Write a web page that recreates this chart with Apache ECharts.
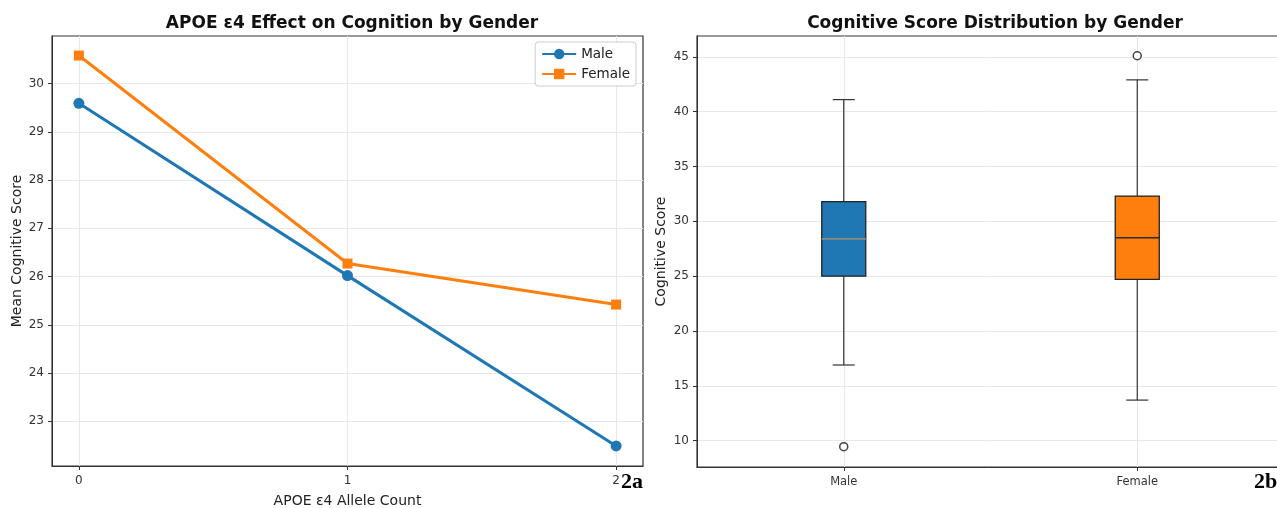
<!DOCTYPE html>
<html><head><meta charset="utf-8">
<script src="https://cdn.jsdelivr.net/npm/echarts@6/dist/echarts.min.js"></script>
<style>html,body{margin:0;padding:0;background:#fff}#c{width:1277px;height:508px}</style>
</head><body><div id="c"></div>
<script>
// ---- data ----
const alleleCounts = [0, 1, 2];
const maleMeans = [29.59, 26.02, 22.49];
const femaleMeans = [30.58, 26.27, 25.42];
const leftYTicks = [23, 24, 25, 26, 27, 28, 29, 30];

const genders = ['Male', 'Female'];
// [low whisker, Q1, median, Q3, high whisker]
const maleBox = [16.9, 25.0, 28.4, 31.8, 41.1];
const femaleBox = [13.7, 24.7, 28.5, 32.3, 42.9];
const maleOutliers = [9.45];
const femaleOutliers = [45.1];
const rightYTicks = [10, 15, 20, 25, 30, 35, 40, 45];

const blue = '#1f77b4', orange = '#ff7f0e';
const FONT = 'DejaVu Sans';
const chart = echarts.init(document.getElementById('c'));

const boxData = [[1].concat(maleBox), [2].concat(femaleBox)];
const boxColors = [blue, orange];
const medianColors = ['#8a8a80', '#2a2a2a'];

function renderBox(params, api) {
  const x = api.value(0);
  const lo = api.coord([x, api.value(1)]);
  const q1 = api.coord([x, api.value(2)]);
  const md = api.coord([x, api.value(3)]);
  const q3 = api.coord([x, api.value(4)]);
  const hi = api.coord([x, api.value(5)]);
  const w = api.size([0.15, 0])[0];
  const hw = w / 2, cw = w / 4;
  const cx = lo[0];
  const ls = {stroke: '#333', lineWidth: 1.2};
  return {type: 'group', children: [
    {type: 'line', shape: {x1: cx, y1: lo[1], x2: cx, y2: q1[1]}, style: ls},
    {type: 'line', shape: {x1: cx, y1: q3[1], x2: cx, y2: hi[1]}, style: ls},
    {type: 'line', shape: {x1: cx - cw, y1: lo[1], x2: cx + cw, y2: lo[1]}, style: ls},
    {type: 'line', shape: {x1: cx - cw, y1: hi[1], x2: cx + cw, y2: hi[1]}, style: ls},
    {type: 'rect', shape: {x: cx - hw, y: q3[1], width: w, height: q1[1] - q3[1]},
      style: {fill: boxColors[params.dataIndex], stroke: '#222', lineWidth: 1.3}},
    {type: 'line', shape: {x1: cx - hw, y1: md[1], x2: cx + hw, y2: md[1]},
      style: {stroke: medianColors[params.dataIndex], lineWidth: 1.6}}
  ]};
}

const axisTextStyle = {color: '#333', fontFamily: FONT, fontSize: 12};
const gridLine = {show: true, lineStyle: {color: '#e8e8e8', width: 1}};
const nameStyle = {fontFamily: FONT, fontSize: 14, color: '#222'};

chart.setOption({
  animation: false,
  backgroundColor: '#fff',
  title: [
    {text: 'APOE ε4 Effect on Cognition by Gender', left: 347, top: 10, textAlign: 'center',
      textStyle: {fontFamily: FONT, fontWeight: 'bold', fontSize: 17, color: '#111'}},
    {text: 'Cognitive Score Distribution by Gender', left: 990, top: 10, textAlign: 'center',
      textStyle: {fontFamily: FONT, fontWeight: 'bold', fontSize: 17, color: '#111'}}
  ],
  legend: {
    show: true, orient: 'vertical', right: 641, top: 42,
    data: ['Male', 'Female'],
    backgroundColor: '#fff', borderColor: '#ccc', borderWidth: 1, borderRadius: 3,
    padding: [5, 6, 5, 6], itemGap: 6, itemWidth: 34, itemHeight: 13,
    textStyle: {fontFamily: FONT, fontSize: 13.5, color: '#222'}
  },
  grid: [
    {left: 52, right: 634, top: 36, bottom: 42, show: true, borderColor: '#333', borderWidth: 1.2,
      outerBoundsMode: 'none', containLabel: false},
    {left: 697, right: -7, top: 36, bottom: 41, show: true, borderColor: '#333', borderWidth: 1.2,
      outerBoundsMode: 'none', containLabel: false}
  ],
  xAxis: [
    {type: 'value', gridIndex: 0, min: -0.1, max: 2.1,
      name: 'APOE ε4 Allele Count', nameLocation: 'middle', nameGap: 28,
      nameTextStyle: nameStyle,
      axisLine: {show: true, onZero: false, lineStyle: {color: '#333'}},
      axisTick: {show: true, length: 4, lineStyle: {color: '#333'}, customValues: alleleCounts},
      axisLabel: Object.assign({margin: 9, customValues: alleleCounts}, axisTextStyle),
      splitLine: gridLine},
    {type: 'value', gridIndex: 1, min: 0.5, max: 2.5,
      axisLine: {show: true, onZero: false, lineStyle: {color: '#333'}},
      axisTick: {show: true, length: 4, lineStyle: {color: '#333'}, customValues: [1, 2]},
      axisLabel: Object.assign({margin: 9, customValues: [1, 2],
        formatter: v => genders[Math.round(v) - 1] || ''}, axisTextStyle, {fontSize: 11.5}),
      splitLine: gridLine}
  ],
  yAxis: [
    {type: 'value', gridIndex: 0, min: 22.075, max: 30.985,
      name: 'Mean Cognitive Score', nameLocation: 'middle', nameGap: 27,
      nameTextStyle: nameStyle,
      axisLine: {show: true, onZero: false, lineStyle: {color: '#333'}},
      axisTick: {show: true, length: 4, lineStyle: {color: '#333'}, customValues: leftYTicks},
      axisLabel: Object.assign({margin: 8, customValues: leftYTicks}, axisTextStyle),
      splitLine: gridLine},
    {type: 'value', gridIndex: 1, min: 7.6, max: 46.9,
      name: 'Cognitive Score', nameLocation: 'middle', nameGap: 29,
      nameTextStyle: nameStyle,
      axisLine: {show: true, onZero: false, lineStyle: {color: '#333'}},
      axisTick: {show: true, length: 4, lineStyle: {color: '#333'}, customValues: rightYTicks},
      axisLabel: Object.assign({margin: 8, customValues: rightYTicks}, axisTextStyle),
      splitLine: gridLine}
  ],
  series: [
    {name: 'Male', type: 'line', xAxisIndex: 0, yAxisIndex: 0,
      data: alleleCounts.map((x, i) => [x, maleMeans[i]]),
      symbol: 'circle', symbolSize: 11, lineStyle: {color: blue, width: 3},
      itemStyle: {color: blue}, z: 3},
    {name: 'Female', type: 'line', xAxisIndex: 0, yAxisIndex: 0,
      data: alleleCounts.map((x, i) => [x, femaleMeans[i]]),
      symbol: 'rect', symbolSize: 10, lineStyle: {color: orange, width: 3},
      itemStyle: {color: orange}, z: 2},
    {type: 'custom', xAxisIndex: 1, yAxisIndex: 1, renderItem: renderBox,
      data: boxData, encode: {x: 0, y: [1, 2, 3, 4, 5]}},
    {type: 'scatter', xAxisIndex: 1, yAxisIndex: 1,
      data: maleOutliers.map(v => [1, v]).concat(femaleOutliers.map(v => [2, v])),
      symbol: 'circle', symbolSize: 8,
      itemStyle: {color: '#fff', borderColor: '#111', borderWidth: 1.5}}
  ],
  graphic: [
    {type: 'text', left: 621, top: 471, style: {text: '2a', font: 'bold 22px "Liberation Serif", serif', fill: '#000'}},
    {type: 'text', left: 1254, top: 471, style: {text: '2b', font: 'bold 22px "Liberation Serif", serif', fill: '#000'}}
  ]
});
</script></body></html>
